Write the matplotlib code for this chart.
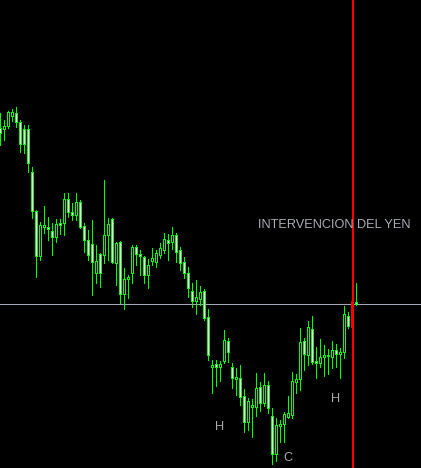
import matplotlib
matplotlib.use("Agg")
import matplotlib.pyplot as plt

# OHLC (price levels in chart units)
opens = [340, 339, 342, 352, 355, 346, 339, 339, 296, 257,
         212, 241, 241, 237, 231, 245, 245, 269, 256, 253,
         266, 242, 228, 224, 195, 214, 213, 233, 249, 205,
         226, 174, 189, 195, 221, 214, 211, 193, 207, 206,
         213, 218, 228, 226, 233, 218, 206, 195, 177, 167,
         169, 177, 151, 101, 104, 101, 107, 127, 101, 89,
         90, 72, 46, 61, 61, 81, 65, 83, 52, 14,
         42, 44, 51, 53, 86, 89, 127, 113, 139, 107,
         105, 111, 113, 111, 118, 114, 116, 152, 141, 166]
highs = [355, 348, 357, 359, 361, 348, 343, 343, 301, 258,
         246, 262, 251, 245, 249, 249, 275, 275, 265, 275,
         268, 245, 238, 248, 223, 215, 288, 250, 250, 226,
         227, 200, 193, 223, 223, 218, 212, 209, 220, 218,
         225, 235, 234, 241, 235, 221, 211, 201, 185, 188,
         182, 179, 159, 108, 108, 107, 138, 130, 105, 100,
         103, 79, 70, 69, 95, 86, 95, 87, 60, 50,
         48, 56, 72, 96, 94, 140, 130, 147, 152, 121,
         129, 123, 119, 127, 124, 120, 162, 156, 170, 185]
lows = [323, 328, 340, 347, 341, 316, 315, 296, 250, 191,
        208, 235, 228, 213, 226, 234, 233, 251, 248, 248,
        240, 216, 208, 173, 185, 181, 205, 208, 205, 183,
        165, 159, 170, 185, 203, 193, 185, 180, 203, 201,
        210, 215, 208, 219, 206, 198, 190, 171, 161, 154,
        163, 148, 108, 75, 82, 87, 105, 106, 80, 73,
        63, 36, 38, 31, 52, 57, 62, 55, 4, 7,
        26, 26, 50, 50, 75, 78, 98, 103, 104, 90,
        101, 92, 94, 100, 101, 90, 110, 140, 140, 163]
closes = [335, 342, 356, 356, 346, 324, 324, 305, 257, 212,
          243, 243, 239, 231, 244, 243, 269, 256, 253, 266,
          241, 228, 213, 206, 207, 195, 233, 244, 206, 225,
          174, 189, 191, 221, 214, 212, 193, 203, 210, 215,
          220, 229, 225, 233, 216, 205, 195, 180, 167, 171,
          176, 150, 113, 103, 101, 104, 128, 116, 90, 91,
          71, 46, 67, 63, 80, 65, 83, 60, 14, 43,
          44, 54, 55, 87, 89, 126, 114, 141, 106, 105,
          111, 113, 112, 118, 114, 116, 154, 142, 167, 164]

level = 164          # horizontal price line
event_bar = 88       # vertical line (intervention)
labels = ["H", "C", "H"]
label_bars = [54.7, 71.8, 83.8]
label_prices = [41, 10, 69.5]

GREEN = "#00ff00"
px = 0.72  # one pixel in points at 100 dpi

fig = plt.figure(figsize=(4.21, 4.68), dpi=100, facecolor="black")
ax = fig.add_axes([0, 0, 1, 1])
ax.set_facecolor("black")
ax.set_xlim(-0.075, 105.175)
ax.set_ylim(0, 468)
ax.axis("off")

n = len(opens)
idx = list(range(n))
edge = [("red" if i == event_bar else GREEN) for i in idx]

ax.vlines(idx, lows, highs, colors=edge, linewidth=px, antialiased=False, zorder=2)

bottoms = [min(o, c) for o, c in zip(opens, closes)]
heights = [max(abs(c - o), 1) for o, c in zip(opens, closes)]
fills = ["black" if c > o else "white" for o, c in zip(opens, closes)]
ax.bar(idx, heights, bottom=bottoms, width=0.5, color=fills, edgecolor=edge,
       linewidth=px, antialiased=False, zorder=3)

ax.axhline(level, color="#a4a8bc", linewidth=px, antialiased=False, zorder=1)
ax.axvline(event_bar + 0.05, color="#ff0000", linewidth=1.1, antialiased=False, zorder=4)

ax.text(64.4, 243, "INTERVENCION DEL YEN", color="#a8acb4", fontsize=9.2,
        family="Liberation Sans", ha="left", va="center", zorder=5)
for t, xb, yp in zip(labels, label_bars, label_prices):
    ax.text(xb, yp, t, color="#a8a8a8", fontsize=9.2, family="Liberation Sans",
            ha="center", va="center", zorder=5)

fig.savefig("out.png", dpi=100, facecolor="black")
